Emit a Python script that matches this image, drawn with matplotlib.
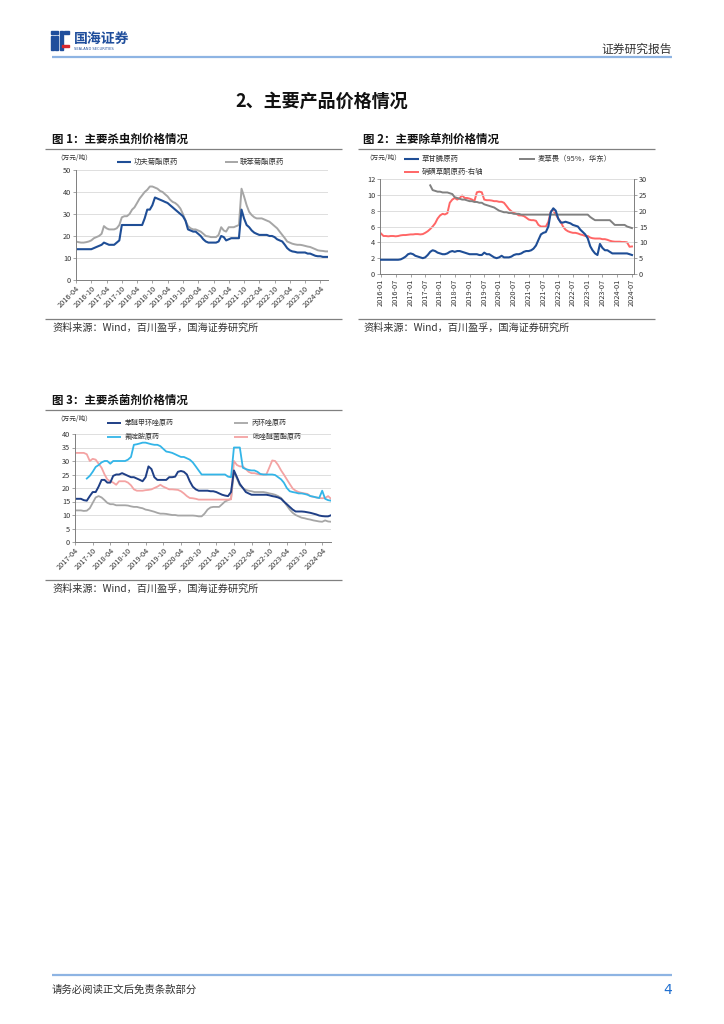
import matplotlib
matplotlib.use('Agg')
import matplotlib.pyplot as plt
from matplotlib.lines import Line2D
from matplotlib.patches import Rectangle
import pandas as pd
import numpy as np

plt.rcParams['font.family'] = ['Noto Sans CJK SC', 'DejaVu Sans']
plt.rcParams['axes.unicode_minus'] = False

W, H = 724, 1024
nan = np.nan

# ---------------- data ----------------
# Chart 1: insecticides, monthly 2016-04 .. 2024-07
c1_start = '2016-04-01'
c1_lambda = [14, 14, 14, 14, 14, 14, 14,
             14.5, 15, 15.5, 16, 17,
             16.5, 16, 16, 16, 17, 18,
             25, 25, 25, 25, 25, 25, 25, 25, 25,
             28, 32, 32, 34, 37.5,
             37, 36.5, 36, 35.5, 35, 34, 33, 32, 31, 30, 29, 27,
             23, 22.5, 22, 22, 21, 20, 18.5, 17.5, 17, 17, 17, 17, 17.5,
             20, 19.5, 18, 18.5, 19, 19, 19, 19,
             32, 28, 25, 24,
             22.5, 21.5, 21, 20.5, 20.5, 20.5, 20.5, 20, 20, 19.5, 18.5, 18, 17.5, 16,
             14.5, 13.5, 13, 12.8, 12.5, 12.5, 12.5, 12.5, 12, 12, 11.5, 11, 10.8, 10.8, 10.5, 10.5, 10.5]
c1_bifen = [17.5, 17.2, 17, 17, 17.2, 17.5, 18,
            19, 19.5, 20, 21, 24.5,
            23.5, 23, 23, 23, 23.5, 25,
            28.5, 29, 29, 30, 32, 33, 35, 37, 38.5,
            40, 41, 42.5, 42.5,
            42, 41.5, 40.5, 40, 39, 38, 36.5, 35.5, 35, 34, 32.5, 30, 27,
            24.5, 23.5, 23, 23, 22.5, 22, 21, 20, 19.8, 19.5, 19.5, 19.5, 20.5,
            24, 22.5, 22, 24, 24, 24, 24.5, 25,
            41.5, 38, 34, 31, 29.5, 28.5, 28, 28, 28, 27.5, 27, 26.5, 25.5, 24.5, 23.5, 22, 20.5, 19, 17.5,
            17, 16.5, 16.2, 16, 16, 15.8, 15.5, 15.2, 15, 14.5, 14, 13.5, 13.3, 13.2, 13, 13]
c1_ticks = ['2016-04', '2016-10', '2017-04', '2017-10', '2018-04', '2018-10', '2019-04',
            '2019-10', '2020-04', '2020-10', '2021-04', '2021-10', '2022-04', '2022-10',
            '2023-04', '2023-10', '2024-04']
c1_names = ['功夫菊酯原药', '联苯菊酯原药']

# Chart 2: herbicides, monthly 2016-01 .. 2024-07
c2_start = '2016-01-01'
c2_glyph = [1.8, 1.8, 1.8, 1.8, 1.8, 1.8, 1.8, 1.8,
            1.85, 2.0,
            2.2, 2.5, 2.6, 2.5, 2.3, 2.2, 2.1, 2.0, 2.1, 2.4,
            2.8, 3.0, 2.9, 2.7, 2.6, 2.5, 2.5,
            2.6, 2.8, 2.9, 2.8, 2.9, 2.9, 2.8, 2.7,
            2.6, 2.5, 2.5, 2.5, 2.5, 2.4, 2.4, 2.7, 2.5,
            2.5, 2.3, 2.1, 2.0, 2.1, 2.3, 2.1, 2.1, 2.1, 2.2, 2.4, 2.5, 2.5,
            2.6, 2.8, 2.9, 2.9, 3.0, 3.2, 3.6, 4.3, 5.0, 5.2, 5.3, 6.0, 7.8, 8.3, 8.0, 7.0,
            6.5, 6.5, 6.6, 6.5, 6.4, 6.2, 6.1, 6.0, 5.6, 5.3, 5.0, 4.5, 3.5, 3.0, 2.6, 2.4,
            3.8, 3.3, 3.0, 3.0, 2.8, 2.6, 2.6, 2.6, 2.6, 2.6, 2.6, 2.6, 2.5, 2.4]
c2_dicamba = [nan] * 20 + [11.2, 10.6, 10.5,
              10.4, 10.4, 10.3, 10.3, 10.3, 10.2, 10.1,
              9.7, 9.6, 9.5, 9.4, 9.4, 9.3, 9.2, 9.2, 9.1, 9.1, 9.0, 9.0,
              8.8, 8.7, 8.6, 8.5, 8.4, 8.2, 8.0, 7.9, 7.8, 7.8, 7.7, 7.7, 7.6, 7.6, 7.6] + [7.5] * 28 + \
             [7.2, 7.0, 6.8, 6.8, 6.8, 6.8, 6.8, 6.8, 6.8, 6.5, 6.2, 6.2, 6.2, 6.2, 6.2, 6.0, 5.9, 5.8]
c2_meso = [12.8, 12.0, 12.0, 11.9, 12.0, 12.0, 11.9, 12.0, 12.2, 12.3, 12.3, 12.4, 12.5, 12.5, 12.6, 12.6, 12.5, 12.6,
           13.0, 13.5, 14.2, 15.0, 16.0, 17.5, 18.5, 19.0, 18.8, 19.2,
           22.5, 23.5, 24.0, 23.5, 24.0, 24.8, 24.0, 24.0, 23.8, 23.5, 23.0, 25.8, 26.0, 25.8,
           23.5, 23.3, 23.3, 23.2, 23.0, 23.0, 22.8, 22.8, 22.5, 21.5, 20.5, 19.8, 19.3, 19.0, 18.5, 18.5, 18.3, 17.8, 17.2, 17.0, 17.0, 16.8,
           15.5, 15.0, 15.0, 15.0, 16.5, 19.8, 20.0, 18.8, 17.5, 16.5, 15.0, 14.0, 13.5, 13.2, 13.0, 13.0, 12.8,
           12.5, 12.3, 12.0, 12.0, 11.5, 11.3, 11.2, 11.2, 11.2, 11.0, 11.0, 10.8, 10.5, 10.3, 10.2, 10.2, 10.2, 10.1, 10.1, 10.0, 8.6, 8.7]
c2_ticks = ['2016-01', '2016-07', '2017-01', '2017-07', '2018-01', '2018-07', '2019-01', '2019-07',
            '2020-01', '2020-07', '2021-01', '2021-07', '2022-01', '2022-07', '2023-01', '2023-07',
            '2024-01', '2024-07']
c2_names = ['草甘膦原药', '麦草畏（95%，华东）', '硝磺草酮原药-右轴']

# Chart 3: fungicides, monthly 2017-04 .. 2024-07
c3_start = '2017-04-01'
c3_difeno = [16.0, 16.0, 16.0, 15.5, 15.3, 17.0, 18.5, 18.5, 20.5, 23.0, 23.0, 22.0, 22.0,
             24.5, 25.0, 25.0, 25.5, 25.0, 24.5, 24.0, 24.0, 23.5, 23.0, 22.5, 24.0, 28.0, 27.0,
             24.0, 23.0, 23.0, 23.0, 23.0, 24.0, 24.0, 24.2, 26.0, 26.3, 26.0, 25.0, 22.5, 20.5,
             19.5, 19.0, 19.0, 19.0, 19.0, 18.8, 18.8, 18.5, 18.0, 17.5, 17.2, 17.0, 18.5,
             26.5, 24.0, 21.5, 20.0, 18.5, 18.0, 17.5, 17.5, 17.5, 17.5, 17.5, 17.5, 17.3, 17.0, 16.8, 16.5, 16.0,
             15.0, 14.0, 13.0, 12.0, 11.3, 11.3, 11.3, 11.2, 11.0, 10.8, 10.5, 10.2, 9.8, 9.6, 9.5, 9.5, 9.9]
c3_propi = [11.7, 11.7, 11.7, 11.5, 11.6, 12.5, 14.5, 16.5, 17.0, 16.5, 15.5, 14.5, 14.0,
            14.0, 13.6, 13.6, 13.6, 13.6, 13.5, 13.2, 13.0, 13.0, 12.7, 12.5, 12.0, 11.8, 11.5,
            11.2, 10.8, 10.5, 10.5, 10.4, 10.2, 10.0, 10.0, 9.8, 9.8, 9.8, 9.8, 9.8, 9.8, 9.7, 9.5, 9.5,
            10.5, 12.0, 12.8, 13.0, 13.0, 13.0, 14.0, 15.0, 15.5, 16.0,
            26.0, 23.5, 21.0, 20.0, 19.3, 19.0, 18.8, 18.5, 18.5, 18.5, 18.5, 18.3, 18.0, 17.8, 17.5, 17.0, 16.3,
            15.0, 13.5, 12.0, 10.8, 10.0, 9.5, 9.0, 8.8, 8.5, 8.3, 8.0, 7.8, 7.6, 7.5, 8.0, 7.6, 7.5]
c3_fluaz = [nan, nan, nan, nan,
            23.5, 24.5, 26.0, 27.8, 28.5, 29.5, 30.0, 30.0, 29.0, 30.0, 30.0, 30.0, 30.0, 30.0, 30.5, 31.5,
            36.0, 36.2, 36.5, 36.8, 36.8, 36.5, 36.2, 36.0, 36.0, 35.5, 34.5, 33.5, 33.3, 33.0, 32.5, 32.0, 31.5, 31.5, 31.0, 30.5,
            29.5, 28.0, 26.5, 25.0, 25.0, 25.0, 25.0, 25.0, 25.0, 25.0, 25.0, 25.0, 24.2, 24.0,
            35.0, 35.0, 35.0, 27.5, 27.0, 26.7, 26.5, 26.5, 26.0, 25.2, 25.0, 25.0, 25.0, 25.0, 24.8, 24.0, 23.2,
            22.0, 20.0, 18.8, 18.5, 18.3, 18.0, 18.0, 17.8, 17.5, 17.0, 16.8, 16.5, 16.3, 19.0, 16.0, 15.5, 15.3]
c3_pyra = [33.0, 33.0, 33.0, 33.0, 32.5, 30.0, 30.8, 30.5, 29.0, 27.5, 25.0, 23.2,
           22.5, 22.0, 21.2, 22.5, 22.5, 22.5, 22.0, 21.0, 19.5, 19.0, 19.0, 19.0, 19.2, 19.3, 19.5,
           20.0, 20.5, 21.2, 20.5, 20.0, 19.5, 19.5, 19.4, 19.3, 18.8, 18.0, 17.0, 16.3, 16.2, 16.0, 15.7,
           15.7, 15.7, 15.7, 15.7, 15.7, 15.7, 15.7, 15.7, 15.7, 15.7, 15.8,
           30.0, 28.5, 28.0, 28.0, 27.0, 26.0, 25.5, 25.5, 25.2, 25.0, 25.0, 25.0, 27.5, 30.2, 30.0, 28.5, 26.5,
           25.0, 23.2, 21.5, 19.8, 19.0, 18.5, 18.2, 18.0, 17.8, 17.0, 16.7, 16.5, 16.3, 16.2, 16.3, 17.0, 16.0]
c3_ticks = ['2017-04', '2017-10', '2018-04', '2018-10', '2019-04', '2019-10', '2020-04', '2020-10',
            '2021-04', '2021-10', '2022-04', '2022-10', '2023-04', '2023-10', '2024-04']
c3_names = ['苯醚甲环唑原药', '丙环唑原药', '氟啶胺原药', '吡唑醚菌酯原药']

# ---------------- helpers ----------------
fig = plt.figure(figsize=(W / 100, H / 100), dpi=100)
fig.patch.set_facecolor('white')


def fx(x):
    return x / W


def fy(y):
    return 1 - y / H


def T(x, y, s, **kw):
    kw.setdefault('va', 'center')
    fig.text(fx(x), fy(y), s, **kw)


def L(x0, x1, y, color, lw, y1=None):
    y1 = y if y1 is None else y1
    fig.add_artist(Line2D([fx(x0), fx(x1)], [fy(y), fy(y1)], transform=fig.transFigure,
                          color=color, lw=lw, solid_capstyle='butt'))


def axes_px(l, t, r, b):
    return fig.add_axes([fx(l), fy(b), (r - l) / W, (b - t) / H])


def style(ax, ylim, yticks):
    ax.set_ylim(*ylim)
    ax.set_yticks(yticks)
    ax.grid(axis='y', color='#D9D9D9', lw=0.6)
    ax.set_axisbelow(True)
    for s in ['top', 'right']:
        ax.spines[s].set_visible(False)
    for s in ['left', 'bottom']:
        ax.spines[s].set_color('#7F7F7F')
        ax.spines[s].set_linewidth(0.7)
    ax.tick_params(labelsize=5.3, length=2, width=0.5, colors='#7F7F7F',
                   labelcolor='#333333', pad=1.5)


# ---------------- page header ----------------
logo_blue = '#1F4E9C'
for (x, y, w, h) in [(51, 31, 7, 3), (51, 36, 3, 14), (55, 36, 3, 14), (60, 31, 3, 19), (64, 31, 5, 3)]:
    fig.patches.append(Rectangle((fx(x), fy(y + h)), w / W, h / H, transform=fig.transFigure,
                                 color=logo_blue, zorder=3))
fig.patches.append(Rectangle((fx(62), fy(47)), 7 / W, 2 / H, transform=fig.transFigure,
                             color='#D7282F', zorder=4))
T(74, 39, '国海证券', fontsize=10, fontweight='bold', color=logo_blue)
T(74, 48.5, 'SEALAND SECURITIES', fontsize=2.6, color=logo_blue, family='DejaVu Sans')
T(672, 49, '证券研究报告', fontsize=8.5, color='#333333', ha='right')
L(52, 672, 57, '#8EB4E3', 1.6)

T(322, 101, '2、主要产品价格情况', fontsize=13, fontweight='bold', ha='center', color='#111111')

src = '资料来源：Wind，百川盈孚，国海证券研究所'

# ---------------- chart 1 ----------------
T(52, 139, '图 1：主要杀虫剂价格情况', fontsize=8.3, fontweight='bold', color='#111111')
L(45, 342, 148.5, '#808080', 0.9)
L(45, 342, 318.5, '#808080', 0.9)
T(52, 328, src, fontsize=7.3, color='#333333')

d1 = pd.date_range(c1_start, periods=len(c1_lambda), freq='MS')
ax1 = axes_px(76, 170, 328, 280)
ax1.plot(d1, c1_bifen, color='#A6A6A6', lw=1.4)
ax1.plot(d1, c1_lambda, color='#1F4E96', lw=1.5)
style(ax1, (0, 50), range(0, 51, 10))
ax1.set_xlim(d1[0], d1[-1])
ax1.set_xticks(pd.to_datetime(c1_ticks))
ax1.set_xticklabels(c1_ticks, rotation=45, ha='right', rotation_mode='anchor')

T(56, 158, '（万元/吨）', fontsize=4.8, color='#333333')
L(117, 131, 161.5, '#1F4E96', 1.5)
T(134, 161.5, c1_names[0], fontsize=5.3, color='#333333')
L(225, 238, 161.5, '#A6A6A6', 1.4)
T(240, 161.5, c1_names[1], fontsize=5.3, color='#333333')

# ---------------- chart 2 ----------------
T(363, 139, '图 2：主要除草剂价格情况', fontsize=8.3, fontweight='bold', color='#111111')
L(358, 655, 148.5, '#808080', 0.9)
L(358, 655, 318.5, '#808080', 0.9)
T(363, 328, src, fontsize=7.3, color='#333333')

d2 = pd.date_range(c2_start, periods=len(c2_glyph), freq='MS')
ax2 = axes_px(380, 179, 634, 274)
ax2r = ax2.twinx()
ax2.plot(d2, c2_dicamba, color='#808080', lw=1.4, zorder=3)
ax2.plot(d2, c2_glyph, color='#1F4E96', lw=1.5, zorder=4)
ax2r.plot(d2, c2_meso, color='#FF6666', lw=1.4)
style(ax2, (0, 12), range(0, 13, 2))
ax2r.set_ylim(0, 30)
ax2r.set_yticks(range(0, 31, 5))
for s in ['top', 'left', 'bottom']:
    ax2r.spines[s].set_visible(False)
ax2r.spines['right'].set_color('#7F7F7F')
ax2r.spines['right'].set_linewidth(0.7)
ax2r.tick_params(labelsize=5.3, length=2, width=0.5, colors='#7F7F7F',
                 labelcolor='#333333', pad=1.5)
ax2.set_zorder(ax2r.get_zorder() + 1)
ax2.patch.set_visible(False)
ax2.set_xlim(d2[0] - pd.Timedelta(days=12), d2[-1] + pd.Timedelta(days=25))
ax2.set_xticks(pd.to_datetime(c2_ticks))
ax2.set_xticklabels(c2_ticks, rotation=90, ha='center', va='top')

T(365, 158, '（万元/吨）', fontsize=4.8, color='#333333')
L(404, 419, 158.5, '#1F4E96', 1.5)
T(422, 158.5, c2_names[0], fontsize=5.3, color='#333333')
L(519, 535, 158.5, '#808080', 1.4)
T(538, 158.5, c2_names[1], fontsize=5.3, color='#333333')
L(404, 419, 171.5, '#FF6666', 1.4)
T(422, 171.5, c2_names[2], fontsize=5.3, color='#333333')

# ---------------- chart 3 ----------------
T(52, 400, '图 3：主要杀菌剂价格情况', fontsize=8.3, fontweight='bold', color='#111111')
L(45, 342, 410, '#808080', 0.9)
L(45, 342, 580, '#808080', 0.9)
T(52, 589, src, fontsize=7.3, color='#333333')

d3 = pd.date_range(c3_start, periods=len(c3_difeno), freq='MS')
ax3 = axes_px(75, 434, 331, 542)
ax3.plot(d3, c3_propi, color='#A6A6A6', lw=1.3)
ax3.plot(d3, c3_pyra, color='#F4A3A3', lw=1.3)
ax3.plot(d3, c3_fluaz, color='#33B5E8', lw=1.3)
ax3.plot(d3, c3_difeno, color='#1F3F86', lw=1.4)
style(ax3, (0, 40), range(0, 41, 5))
ax3.set_xlim(d3[0], d3[-1])
ax3.set_xticks(pd.to_datetime(c3_ticks))
ax3.set_xticklabels(c3_ticks, rotation=45, ha='right', rotation_mode='anchor')

T(56, 419, '（万元/吨）', fontsize=4.8, color='#333333')
L(107, 121, 423, '#1F3F86', 1.4)
T(125, 423, c3_names[0], fontsize=5.0, color='#333333')
L(234, 248, 423, '#A6A6A6', 1.3)
T(252, 423, c3_names[1], fontsize=5.0, color='#333333')
L(107, 121, 437, '#33B5E8', 1.3)
T(125, 437, c3_names[2], fontsize=5.0, color='#333333')
L(234, 248, 437, '#F4A3A3', 1.3)
T(252, 437, c3_names[3], fontsize=5.0, color='#333333')

# ---------------- footer ----------------
L(52, 672, 975, '#8EB4E3', 1.6)
T(52, 990, '请务必阅读正文后免责条款部分', fontsize=7.5, color='#333333')
T(672, 990, '4', fontsize=10, color='#1F6FD0', ha='right', family='DejaVu Sans')

fig.savefig('out.png', dpi=100, facecolor='white')
